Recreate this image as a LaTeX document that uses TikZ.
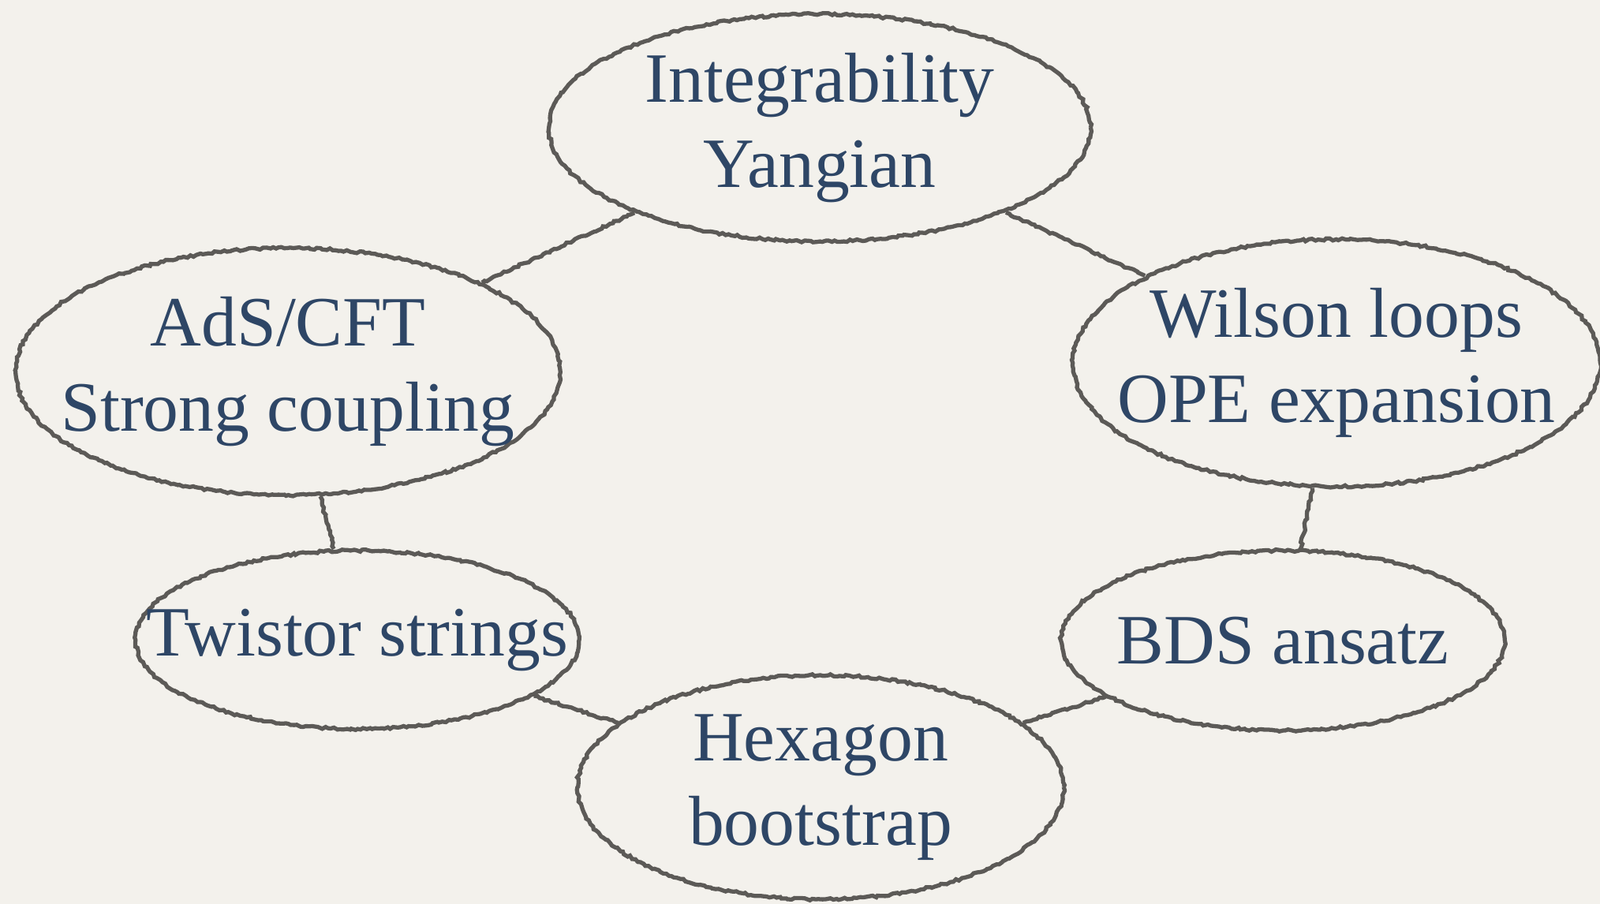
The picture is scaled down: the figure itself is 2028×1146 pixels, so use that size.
\documentclass[tikz,border=0pt]{standalone}
\usepackage{fontspec}
\setmainfont{Liberation Serif}
\usetikzlibrary{shapes.geometric}
\usetikzlibrary{decorations.pathmorphing}
\usetikzlibrary{positioning}
\definecolor{paper}{RGB}{243,241,236}
\definecolor{ink}{RGB}{46,70,102}
\definecolor{pencil}{RGB}{92,90,87}

\begin{document}
\begin{tikzpicture}[x=0.01cm, y=-0.01cm,
	topic/.style={ellipse, draw=pencil, line width=1.5pt, inner xsep=-2cm, inner ysep=-0.6cm,
		decorate, decoration={random steps, segment length=1.1pt, amplitude=0.4pt},
		text=ink, align=center, font=\fontsize{25.5}{30.5}\selectfont},
	link/.style={pencil, line width=1.5pt,
		decorate, decoration={random steps, segment length=1.1pt, amplitude=0.4pt}}]
	\useasboundingbox (0, 0) rectangle (2028, 1146);
	\fill[paper] (0, 0) rectangle (2028, 1146);
	\node[topic, minimum width=6.86cm, minimum height=2.88cm] (integ) at (1039, 162) {Integrability\\Yangian};
	\node[topic, minimum width=6.90cm, minimum height=3.13cm] (ads) at (365, 471) {AdS/CFT\\Strong coupling};
	\node[topic, minimum width=6.68cm, minimum height=3.13cm] (wilson) at (1694, 460) {Wilson loops\\OPE expansion};
	\node[topic, minimum width=5.62cm, minimum height=2.26cm] (twistor) at (453, 811) {Twistor strings};
	\node[topic, minimum width=5.62cm, minimum height=2.28cm] (bds) at (1626, 812) {BDS ansatz};
	\node[topic, minimum width=6.16cm, minimum height=2.84cm] (hexagon) at (1040, 998) {Hexagon\\bootstrap};
	\draw[link] (integ) -- (ads);
	\draw[link] (integ) -- (wilson);
	\draw[link] (ads) -- (twistor);
	\draw[link] (wilson) -- (bds);
	\draw[link] (twistor) -- (hexagon);
	\draw[link] (bds) -- (hexagon);
\end{tikzpicture}
\end{document}
